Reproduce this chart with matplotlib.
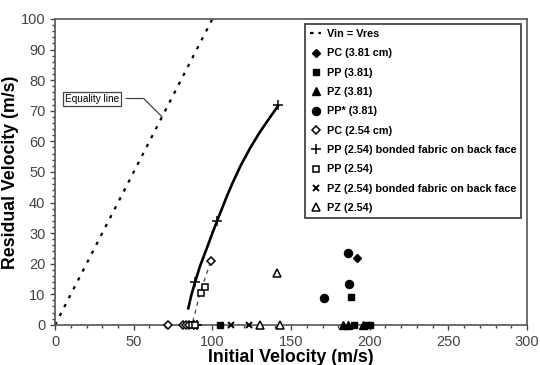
import numpy as np
import matplotlib.pyplot as plt
from matplotlib.ticker import MultipleLocator

plt.rcParams['font.family'] = ['Liberation Sans', 'DejaVu Sans']

# equality line Vin = Vres
eq_v = [0, 100]

# fitted curve through the bonded-fabric PP points
fit_vi = [84.5, 86.5, 89, 92, 96.4, 100, 103, 109, 113, 118, 124, 130, 136, 142]
fit_vr = [5, 9.5, 14, 19, 25, 30, 34, 41.8, 46.6, 52.1, 57.8, 62.9, 67.4, 71.8]

# thin dashed trend for PC (2.54)
pc_trend_vi = [87.5, 92, 99]
pc_trend_vr = [1, 10, 21]

pc381_vi = [192]
pc381_vr = [22]
pp381_vi = [105, 188, 190, 198, 200]
pp381_vr = [0, 9, 0, 0, 0]
pz381_vi = [183, 186, 196]
pz381_vr = [0, 0, 0]
pps381_vi = [171, 187, 186.5]
pps381_vr = [8.7, 13.3, 23.6]
pc254_vi = [71.5, 81, 83, 85, 99]
pc254_vr = [0, 0, 0, 0, 21]
ppb254_vi = [88, 90, 89, 103, 142]
ppb254_vr = [0, 0, 14, 34, 72]
pp254_vi = [87, 89, 93, 95]
pp254_vr = [0, 0, 10.5, 12.3]
pzb254_vi = [112, 123]
pzb254_vr = [0, 0]
pz254_vi = [130, 143, 141]
pz254_vr = [0, 0, 17]

fig = plt.figure(figsize=(5.4, 3.65), dpi=100)
ax = fig.add_axes([0.102, 0.11, 0.874, 0.838])

ax.plot(eq_v, eq_v, color='black', lw=1.6, dashes=(1.5, 3), label='Vin = Vres')
ax.plot(fit_vi, fit_vr, color='black', lw=1.9, solid_capstyle='butt')
ax.plot(pc_trend_vi, pc_trend_vr, color='#555555', lw=1.0, dashes=(3, 3))

ms = 5
mk = dict(ls='none', clip_on=False, zorder=5)
ax.plot(pc381_vi, pc381_vr, 'D', color='black', ms=ms - 0.5, label='PC (3.81 cm)', **mk)
ax.plot(pp381_vi, pp381_vr, 's', color='black', ms=ms, label='PP (3.81)', **mk)
ax.plot(pz381_vi, pz381_vr, '^', color='black', ms=ms + 0.5, label='PZ (3.81)', **mk)
ax.plot(pps381_vi, pps381_vr, 'o', color='black', ms=ms + 0.8, label='PP* (3.81)', **mk)
ax.plot(pc254_vi, pc254_vr, 'D', mfc='white', mec='black', mew=1.1, ms=ms - 1,
        label='PC (2.54 cm)', **mk)
ax.plot(ppb254_vi, ppb254_vr, '+', color='black', mew=1.1, ms=ms + 2,
        label='PP (2.54) bonded fabric on back face', **mk)
ax.plot(pp254_vi, pp254_vr, 's', mfc='white', mec='black', mew=1.1, ms=ms,
        label='PP (2.54)', **mk)
ax.plot(pzb254_vi, pzb254_vr, 'x', color='black', mew=1.4, ms=ms,
        label='PZ (2.54) bonded fabric on back face', **mk)
ax.plot(pz254_vi, pz254_vr, '^', mfc='white', mec='black', mew=1.1, ms=ms + 0.5,
        label='PZ (2.54)', **mk)

ax.annotate('Equality line', xy=(68, 68), xytext=(6.5, 74), fontsize=7.2,
            ha='left', va='center',
            bbox=dict(boxstyle='square,pad=0.2', fc='white', ec='#444444', lw=0.9),
            arrowprops=dict(arrowstyle='-', color='#444444', lw=0.9, shrinkA=3, shrinkB=0,
                            connectionstyle='angle,angleA=0,angleB=135,rad=0'))

ax.set_xlim(0, 300)
ax.set_ylim(0, 100)
ax.xaxis.set_major_locator(MultipleLocator(50))
ax.xaxis.set_minor_locator(MultipleLocator(10))
ax.yaxis.set_major_locator(MultipleLocator(10))
ax.yaxis.set_minor_locator(MultipleLocator(2))
ax.tick_params(which='both', direction='out', color='#444444', labelsize=10.5,
               labelcolor='#444444', width=1)
ax.tick_params(which='major', length=3.5)
ax.tick_params(which='minor', length=2)
for s in ax.spines.values():
    s.set_color('#555555')
    s.set_linewidth(1.2)

ax.set_xlabel('Initial Velocity (m/s)', fontsize=12.8, fontweight='bold', labelpad=0)
ax.set_ylabel('Residual Velocity (m/s)', fontsize=12.8, fontweight='bold', labelpad=1)

leg = ax.legend(loc='upper right', bbox_to_anchor=(0.992, 0.99), fancybox=False,
                framealpha=1, edgecolor='#444444', handlelength=1.0, handletextpad=0.5,
                labelspacing=0.86, borderpad=0.45, borderaxespad=0.2,
                prop={'weight': 'bold', 'size': 7.8})
leg.get_frame().set_linewidth(1.3)
# two short dashes for the equality-line key
leg.get_lines()[0].set_dashes((1.6, 2.2))

fig.savefig('out.png', dpi=100)
